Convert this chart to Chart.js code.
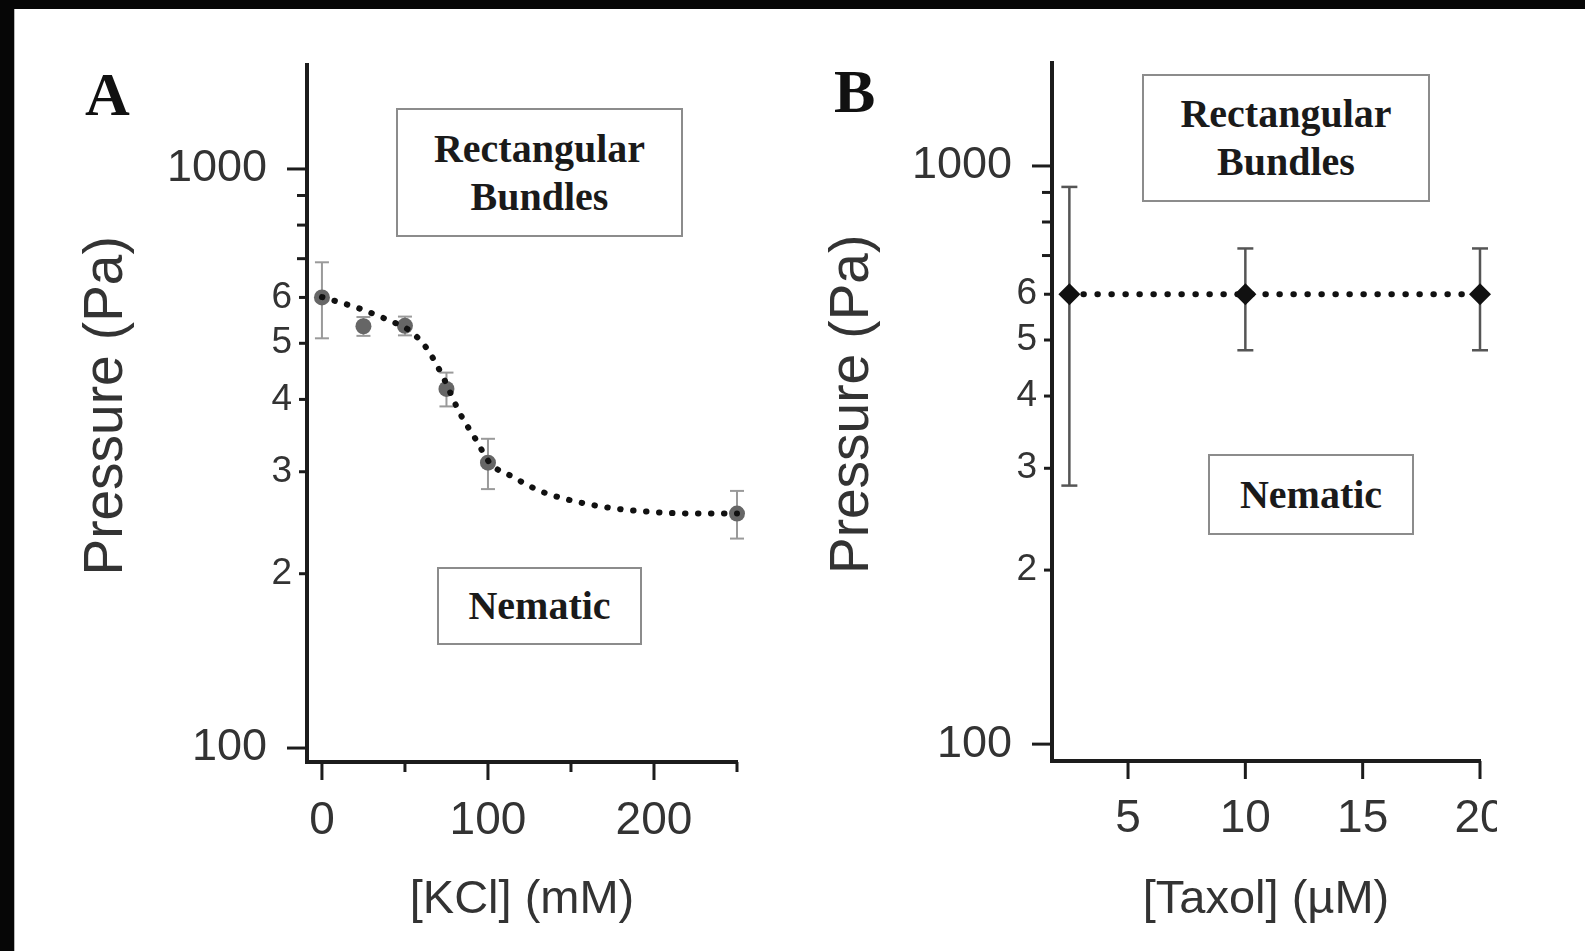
<!DOCTYPE html>
<html lang="en">
<head>
<meta charset="utf-8">
<title>Pressure (Pa) vs [KCl] and [Taxol]</title>
<script src="https://cdn.jsdelivr.net/npm/chart.js@4.4.1/dist/chart.umd.min.js"></script>
<style>
    html, body { margin: 0; padding: 0; }
    body { width: 1585px; height: 951px; background: #060606; position: relative; overflow: hidden; }
    #page { position: absolute; left: 14px; top: 9px; right: 0; bottom: 0; background: #fff; border-left: 1px solid #b8b8b8; }
    canvas { position: absolute; top: 0; }
    #chartA { left: 0; }
    #chartB { left: 790px; }
    .letter { position: absolute; font-family: 'Liberation Serif', 'Times New Roman', serif; font-weight: bold; font-size: 62px; line-height: 1; color: #111; }
    .phase { position: absolute; box-sizing: border-box; border: 2px solid #8c8c8c; background: #fff;
             display: flex; align-items: center; justify-content: center; text-align: center;
             font-family: 'Liberation Serif', 'Times New Roman', serif; font-weight: bold; font-size: 40px; line-height: 48px; color: #1a1a1a; }
</style>
</head>
<body>
<div id="page"></div>
<canvas id="chartA" width="790" height="951"></canvas>
<canvas id="chartB" width="707" height="951"></canvas>

<div class="letter" style="left:85px; top:63px;">A</div>
<div class="letter" style="left:834px; top:60px;">B</div>
<div class="phase" style="left:396px; top:108px; width:287px; height:129px;">Rectangular<br>Bundles</div>
<div class="phase" style="left:437px; top:567px; width:205px; height:78px;">Nematic</div>
<div class="phase" style="left:1142px; top:74px; width:288px; height:128px;">Rectangular<br>Bundles</div>
<div class="phase" style="left:1208px; top:454px; width:206px; height:81px;">Nematic</div>

<script>
// Panneau A : pression en fonction de [KCl]
const kclX = [0, 25, 50, 75, 100, 250];
const kclPressure = [600, 535, 536, 417, 311, 254];
const kclError = [90, 20, 20, 28, 31, 24];
// Courbe d'ajustement en pointillés
const kclFitX = [0, 12, 22, 37, 46, 52, 58, 64, 73, 83, 93, 101, 115, 130, 145, 169, 196, 230, 250];
const kclFitPressure = [601, 587, 575, 553, 539, 528, 510, 486, 437, 379, 340, 311, 294, 279, 270, 261, 256, 254, 254];
const kclXTicks = [0, 50, 100, 150, 200, 250];
const kclXTickLabels = ['0', '', '100', '', '200', ''];

// Panneau B : pression en fonction de [Taxol]
const taxolX = [2.5, 10, 20];
const taxolPressure = [600, 600, 600];
const taxolError = [320, 120, 120];
const taxolXTicks = [5, 10, 15, 20];
const taxolXTickLabels = ['5', '10', '15', '20'];

// Axe des pressions (logarithmique)
const pressureTicks = [100, 200, 300, 400, 500, 600, 700, 800, 900, 1000];
const pressureTickLabels = ['100', '2', '3', '4', '5', '6', '', '', '', '1000'];

const textColor = '#333333';
const axisColor = '#1c1c1c';
Chart.defaults.font.family = "'Liberation Sans', Arial, sans-serif";

function toPoints(xs, ys) {
    return xs.map((x, i) => ({ x: x, y: ys[i] }));
}

// Barres d'erreur : segment bas-haut, puis un trou
function errorBarPoints(xs, ys, errs) {
    const pts = [];
    xs.forEach((x, i) => {
        pts.push({ x: x, y: ys[i] - errs[i] });
        pts.push({ x: x, y: ys[i] + errs[i] });
        pts.push({ x: x, y: null });
    });
    return pts;
}

function isDecade(v) {
    return v === 100 || v === 1000;
}

// Graduations de longueurs différentes
function makeTickMarks(xLength, yLength) {
    return {
        id: 'tickMarks',
        afterDraw(chart) {
            const ctx = chart.ctx;
            const xs = chart.scales.x;
            const ys = chart.scales.y;
            ctx.save();
            ctx.strokeStyle = axisColor;
            ctx.lineWidth = 3;
            xs.ticks.forEach(t => {
                const px = xs.getPixelForValue(t.value);
                ctx.beginPath();
                ctx.moveTo(px, xs.top);
                ctx.lineTo(px, xs.top + xLength(t.value));
                ctx.stroke();
            });
            ys.ticks.forEach(t => {
                const py = ys.getPixelForValue(t.value);
                ctx.beginPath();
                ctx.moveTo(ys.right, py);
                ctx.lineTo(ys.right - yLength(t.value), py);
                ctx.stroke();
            });
            ctx.restore();
        }
    };
}

function pressureLength(v) {
    if (isDecade(v)) return 20;
    return v > 600 ? 10 : 8;
}

function buildPanel(canvasId, cfg) {
    return new Chart(document.getElementById(canvasId), {
        type: 'scatter',
        data: { datasets: cfg.datasets },
        options: {
            responsive: false,
            animation: false,
            events: [],
            layout: { padding: cfg.padding },
            plugins: {
                legend: { display: false },
                tooltip: { enabled: false }
            },
            scales: {
                x: {
                    type: 'linear',
                    min: cfg.xMin,
                    max: cfg.xMax,
                    bounds: 'data',
                    grid: { display: false, drawTicks: false },
                    border: { display: true, color: axisColor, width: 4 },
                    afterBuildTicks: s => { s.ticks = cfg.xTicks.map(v => ({ value: v })); },
                    afterFit: s => { s.height = cfg.xAxisHeight; s.paddingLeft = 0; s.paddingRight = 0; },
                    ticks: {
                        autoSkip: false,
                        maxRotation: 0,
                        minRotation: 0,
                        padding: cfg.xTickPadding,
                        color: textColor,
                        font: { size: 46 },
                        callback: (v, i) => cfg.xTickLabels[i]
                    },
                    title: {
                        display: true,
                        text: cfg.xTitle,
                        color: textColor,
                        font: { size: 47 },
                        padding: { top: 0, bottom: 23 }
                    }
                },
                y: {
                    type: 'logarithmic',
                    min: cfg.yMin,
                    max: cfg.yMax,
                    bounds: 'data',
                    grid: { display: false, drawTicks: false },
                    border: { display: true, color: axisColor, width: 4 },
                    afterBuildTicks: s => { s.ticks = pressureTicks.map(v => ({ value: v })); },
                    afterFit: s => { s.width = cfg.yAxisWidth; s.paddingTop = 0; s.paddingBottom = 0; },
                    ticks: {
                        autoSkip: false,
                        padding: 15,
                        color: textColor,
                        font: ctx => ({ size: ctx.tick && isDecade(ctx.tick.value) ? 45 : 37 }),
                        // les décades sont décalées vers la gauche (graduation longue)
                        callback: (v, i) => isDecade(v) ? pressureTickLabels[i] + '  ' : pressureTickLabels[i]
                    },
                    title: {
                        display: true,
                        // espace en tête : remonte légèrement le titre
                        text: ' Pressure (Pa)',
                        color: textColor,
                        font: { size: 55 },
                        padding: { top: cfg.yTitlePad, bottom: 0 }
                    }
                }
            }
        },
        plugins: [makeTickMarks(cfg.xLength, pressureLength)]
    });
}

buildPanel('chartA', {
    padding: { left: 0, top: 65, right: 53, bottom: 0 },
    yAxisWidth: 307,
    xAxisHeight: 189,
    xMin: -9, xMax: 250,
    yMin: 94.6, yMax: 1512,
    xTicks: kclXTicks,
    xTickLabels: kclXTickLabels,
    xTickPadding: 32,
    xTitle: '[KCl] (mM)',
    yTitlePad: 74,
    xLength: v => (v === 0 || v === 100 || v === 200) ? 18 : 10,
    datasets: [
        {
            data: toPoints(kclFitX, kclFitPressure),
            showLine: true,
            borderColor: '#111111',
            borderWidth: 6,
            borderDash: [0.5, 12.5],
            borderCapStyle: 'round',
            cubicInterpolationMode: 'monotone',
            pointRadius: 0,
            clip: false,
            order: 0
        },
        {
            data: toPoints(kclX, kclPressure),
            pointRadius: 8,
            pointBackgroundColor: '#666666',
            pointBorderColor: '#666666',
            pointBorderWidth: 0,
            clip: false,
            order: 1
        },
        {
            data: errorBarPoints(kclX, kclPressure, kclError),
            showLine: true,
            spanGaps: false,
            borderColor: '#9a9a9a',
            borderWidth: 2,
            pointStyle: 'line',
            pointRadius: 7,
            pointBorderColor: '#9a9a9a',
            pointBorderWidth: 2,
            clip: false,
            order: 2
        }
    ]
});

buildPanel('chartB', {
    padding: { left: 0, top: 63, right: 17, bottom: 0 },
    yAxisWidth: 262,
    xAxisHeight: 190,
    xMin: 1.76, xMax: 20,
    yMin: 93.5, yMax: 1507,
    xTicks: taxolXTicks,
    xTickLabels: taxolXTickLabels,
    xTickPadding: 31,
    xTitle: '[Taxol] (\u00b5M)',
    yTitlePad: 30,
    xLength: v => 18,
    datasets: [
        {
            data: toPoints(taxolX, taxolPressure),
            showLine: true,
            borderColor: '#111111',
            borderWidth: 6,
            borderDash: [0.5, 13.5],
            borderCapStyle: 'round',
            pointStyle: 'rectRot',
            pointRadius: 11,
            pointBackgroundColor: '#111111',
            pointBorderColor: '#111111',
            pointBorderWidth: 0,
            clip: false,
            order: 0
        },
        {
            data: errorBarPoints(taxolX, taxolPressure, taxolError),
            showLine: true,
            spanGaps: false,
            borderColor: '#555555',
            borderWidth: 2.5,
            pointStyle: 'line',
            pointRadius: 8,
            pointBorderColor: '#555555',
            pointBorderWidth: 2.5,
            clip: false,
            order: 1
        }
    ]
});
</script>
</body>
</html>
